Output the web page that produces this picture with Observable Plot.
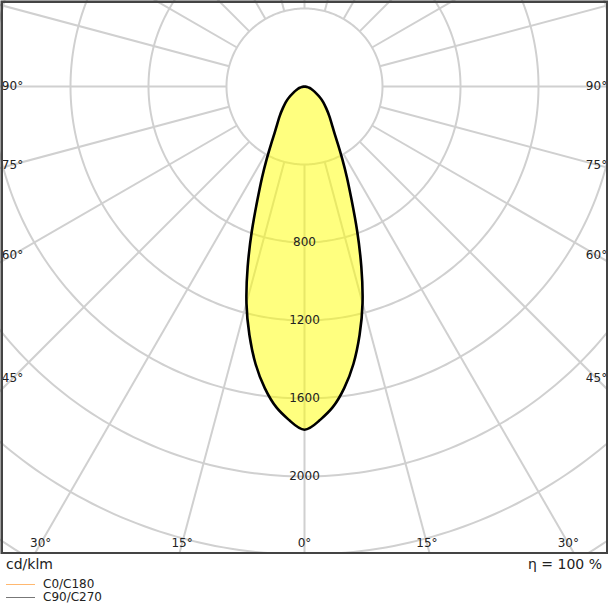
<!DOCTYPE html>
<html>
<head>
<meta charset="utf-8">
<script src="https://cdn.jsdelivr.net/npm/d3@7"></script>
<script src="https://cdn.jsdelivr.net/npm/@observablehq/plot@0.6"></script>
<style>
  html, body { margin: 0; padding: 0; background: #fff; }
  body { font-family: "DejaVu Sans", sans-serif; color: #222; width: 608px; }
  #chart svg { display: block; }
  #foot { position: relative; height: 54px; width: 608px; }
  #foot .unit { position: absolute; left: 6px; top: 2px; font-size: 14px; line-height: 16px; }
  #foot .eta { position: absolute; right: 6px; top: 2px; font-size: 14px; line-height: 16px; }
  #foot .leg { position: absolute; left: 6px; font-size: 12px; line-height: 14px; display: flex; align-items: center; }
  #foot .leg span.sw { display: inline-block; width: 29px; height: 0; border-top: 1px solid; margin-right: 8px; }
</style>
</head>
<body>
<div id="chart"></div>
<div id="foot">
  <div class="unit">cd/klm</div>
  <div class="eta">η = 100 %</div>
  <div class="leg" style="top:23px"><span class="sw" style="border-color:#ffb870"></span>C0/C180</div>
  <div class="leg" style="top:36px"><span class="sw" style="border-color:#777"></span>C90/C270</div>
</div>
<script>
// ---- data ----
const gammaAngles = [0, 2.5, 5, 7.5, 10, 12.5, 15, 17.5, 20, 22.5, 25, 27.5, 30, 32.5, 35, 40, 45, 50, 55, 60, 65, 70, 75, 80, 85, 90];
const intensity   = [1760, 1716, 1652, 1560, 1445, 1305, 1150, 969, 790, 632, 515, 420, 345, 288, 250, 198, 157, 126, 96, 68, 50, 37, 25, 14, 6, 0];
const gridRadii = [400, 800, 1200, 1600, 2000, 2400, 2800];
const radialTickLabels = [800, 1200, 1600, 2000];
const rayAngles = [0, 15, 30, 45, 60, 75, 90, 105, 120, 135, 150, 165, 180, 195, 210, 225, 240, 255, 270, 285, 300, 315, 330, 345];
const sideAngleLabels = [90, 75, 60, 45];
const bottomAngleLabels = [30, 15, 0];

// ---- layout ----
const W = 608, H = 554;
const centerPx = {x: 304, y: 86};
const pxPerUnit = 78 / 400;
const xDomain = [-centerPx.x / pxPerUnit, (W - centerPx.x) / pxPerUnit];
const yDomain = [-(H - centerPx.y) / pxPerUnit, centerPx.y / pxPerUnit];
const rad = d => d * Math.PI / 180;
const polar = (deg, r) => ({x: r * Math.sin(rad(deg)), y: -r * Math.cos(rad(deg))});

// grid circles
const circlePts = gridRadii.flatMap(r => d3.range(0, 361, 1).map(a => ({...polar(a, r), r})));
// rays
const rays = rayAngles.map(a => ({a, p1: polar(a, 400), p2: polar(a, 4000)}));
// intensity curve (symmetric C-planes)
const curvePts = [];
for (let i = gammaAngles.length - 1; i >= 0; i--) curvePts.push(polar(-gammaAngles[i], intensity[i]));
for (let i = 1; i < gammaAngles.length; i++) curvePts.push(polar(gammaAngles[i], intensity[i]));

// angle labels
const sideInset = (centerPx.x - 12) / pxPerUnit;
const sideLabels = sideAngleLabels.flatMap(a => [-1, 1].map(s => ({
  x: s * sideInset,
  y: a === 90 ? 0 : -sideInset / Math.tan(rad(a)),
  t: a + "°"
})));
const bottomDepth = (543 - centerPx.y) / pxPerUnit;
const bottomLabels = bottomAngleLabels.flatMap(a => (a === 0 ? [1] : [-1, 1]).map(s => ({
  x: s * bottomDepth * Math.tan(rad(a)),
  y: -bottomDepth,
  t: a + "°"
})));

const gridColor = "#d0d0d0";
const plot = Plot.plot({
  width: W,
  height: H,
  margin: 0,
  x: {domain: xDomain, axis: null},
  y: {domain: yDomain, axis: null},
  style: {background: "#fff", fontFamily: "DejaVu Sans, sans-serif"},
  marks: [
    Plot.line(circlePts, {x: "x", y: "y", z: "r", stroke: gridColor, strokeWidth: 2, clip: true}),
    Plot.link(rays, {x1: d => d.p1.x, y1: d => d.p1.y, x2: d => d.p2.x, y2: d => d.p2.y, stroke: gridColor, strokeWidth: 2, clip: true}),
    Plot.line(curvePts, {x: "x", y: "y", curve: "natural", fill: "#ffff00", fillOpacity: 0.5, stroke: "#000", strokeWidth: 2.6, strokeLinejoin: "round"}),
    Plot.text(radialTickLabels, {x: 0, y: d => -d, text: d => String(d), fontSize: 12, fill: "#222"}),
    Plot.text(sideLabels, {x: "x", y: "y", text: "t", fontSize: 12, fill: "#222"}),
    Plot.text(bottomLabels, {x: "x", y: "y", text: "t", fontSize: 12, fill: "#222"}),
    Plot.frame({stroke: "#444", strokeWidth: 2.5, inset: 1.25})
  ]
});
document.getElementById("chart").appendChild(plot);
</script>
</body>
</html>
